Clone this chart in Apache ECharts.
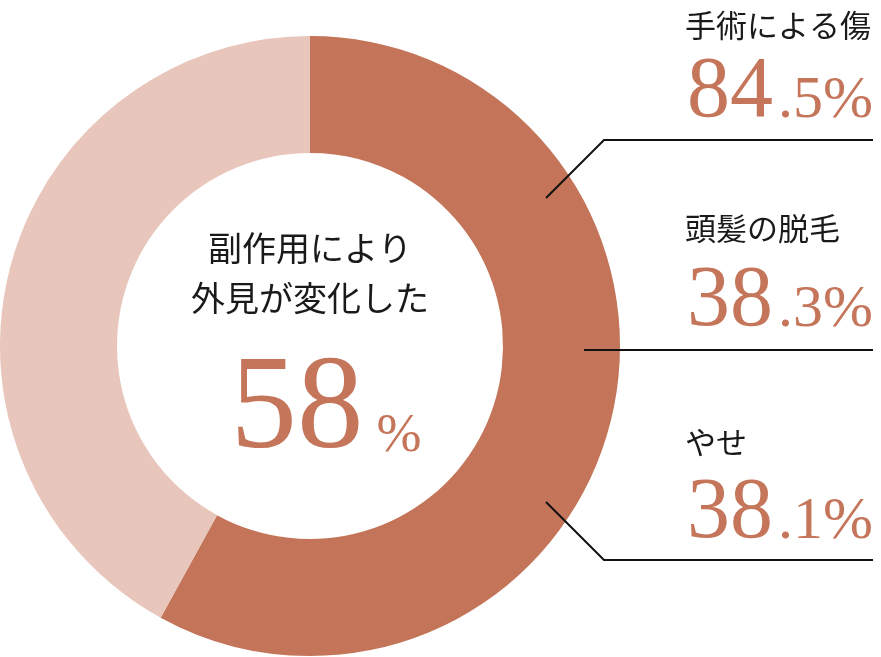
<!DOCTYPE html>
<html>
<head>
<meta charset="utf-8">
<script src="https://cdn.jsdelivr.net/npm/echarts@6/dist/echarts.min.js"></script>
<style>
  html, body { margin: 0; padding: 0; background: #fff; }
  #main { width: 881px; height: 657px; }
</style>
</head>
<body>
<div id="main"></div>
<script>
// ring: share of people whose appearance changed
const ringNames = ['副作用により外見が変化した', 'その他']
const ringValues = [58, 42]
const centerLines = ['副作用により', '外見が変化した']

// breakdown on the right
const itemNames = ['手術による傷', '頭髪の脱毛', 'やせ']
const itemValues = [84.5, 38.3, 38.1]

const DARK = '#c37459'
const LIGHT = '#e8c6bb'
const NUM = '#c4755a'
const JP = '"Noto Sans CJK JP", sans-serif'
const SERIF = '"Liberation Serif", "DejaVu Serif", serif'

const chart = echarts.init(document.getElementById('main'), null, { renderer: 'canvas' })

const cx = 310, cy = 346
const labelX = 685
const rowY = [25, 228, 442]     // label centre
const baseY = [121, 330, 542]   // number baseline
const lineEnd = 873

const graphics = []

// centre text
centerLines.forEach((t, i) => {
  graphics.push({
    type: 'text', z: 20, position: [cx, 248 + i * 50],
    style: { text: t, fill: '#1a1a1a', font: '34px ' + JP, align: 'center', verticalAlign: 'middle' }
  })
})
graphics.push({
  type: 'text', z: 20, position: [297, 412],
  style: { text: String(ringValues[0]), fill: NUM, font: '133px ' + SERIF, align: 'center', verticalAlign: 'middle' }
})
graphics.push({
  type: 'text', z: 20, position: [399, 437],
  style: { text: '%', fill: NUM, font: '54px ' + SERIF, align: 'center', verticalAlign: 'middle' }
})

// right side rows
itemNames.forEach((name, i) => {
  const parts = itemValues[i].toFixed(1).split('.')
  graphics.push({
    type: 'text', z: 20, position: [labelX, rowY[i]],
    style: { text: name, fill: '#1a1a1a', font: '31px ' + JP, align: 'left', verticalAlign: 'middle' }
  })
  graphics.push({
    type: 'text', z: 20, position: [labelX + 2, baseY[i] - 28],
    style: { text: parts[0], fill: NUM, font: '86px ' + SERIF, align: 'left', verticalAlign: 'middle' }
  })
  graphics.push({
    type: 'text', z: 20, position: [lineEnd, baseY[i] - 20],
    style: { text: '.' + parts[1] + '%', fill: NUM, font: '60px ' + SERIF, align: 'right', verticalAlign: 'middle' }
  })
})

// leader lines
const leaders = [
  [[546, 198], [604, 140], [lineEnd, 140]],
  [[584, 350], [lineEnd, 350]],
  [[546, 502], [604, 560], [lineEnd, 560]]
]
leaders.forEach(pts => {
  graphics.push({
    type: 'polyline', z: 20,
    shape: { points: pts },
    style: { stroke: '#111', lineWidth: 2, fill: null }
  })
})

chart.setOption({
  animation: false,
  series: [
    {
      type: 'pie',
      center: [cx, cy],
      radius: [193, 310],
      startAngle: 90,
      clockwise: true,
      silent: true,
      label: { show: false },
      labelLine: { show: false },
      itemStyle: { borderWidth: 0 },
      data: ringNames.map((n, i) => ({
        name: n,
        value: ringValues[i],
        itemStyle: { color: i === 0 ? DARK : LIGHT }
      }))
    }
  ],
  graphic: graphics
})
</script>
</body>
</html>
